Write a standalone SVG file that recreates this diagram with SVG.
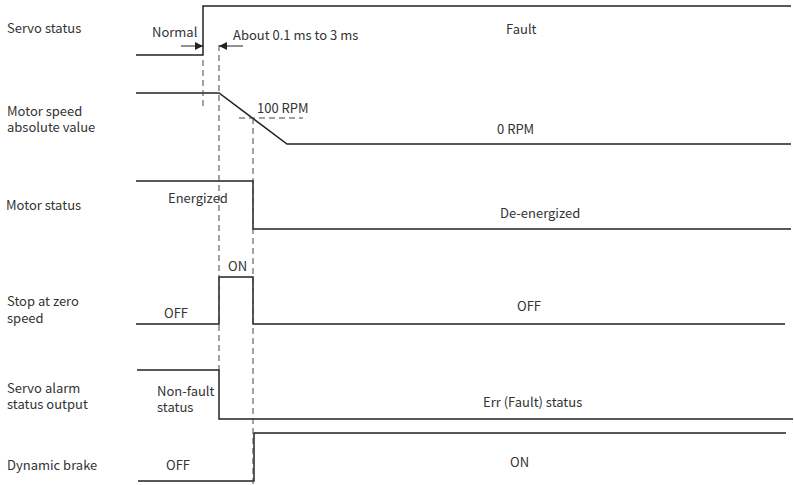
<svg xmlns="http://www.w3.org/2000/svg" width="794" height="485" viewBox="0 0 794 485">
<style>
text{font-family:"Noto Sans CJK SC","Noto Sans",sans-serif;font-size:13px;fill:#333}
.w{fill:none;stroke:#222;stroke-width:1.5}
.d{fill:none;stroke:#444;stroke-width:1;stroke-dasharray:6 4}
.a{fill:none;stroke:#222;stroke-width:1}
</style>
<defs>
<marker id="ah" viewBox="0 0 10 10" refX="10" refY="5" markerWidth="8" markerHeight="8" markerUnits="userSpaceOnUse" orient="auto"><path d="M0,0 L10,5 L0,10 z" fill="#222"/></marker>
</defs>
<rect width="794" height="485" fill="#fff"/>
<g id="servo-status">
<text x="7" y="33">Servo status</text>
<path class="w" d="M136,55 H203 V6 H791"/>
<text x="152" y="37">Normal</text>
<text x="506" y="34">Fault</text>
</g>
<g id="motor-speed">
<text x="7" y="116">Motor speed</text>
<text x="7" y="132">absolute value</text>
<path class="w" d="M136,93 H219 L287,144 H791"/>
<text x="257" y="113">100 RPM</text>
<text x="497" y="134">0 RPM</text>
</g>
<g id="motor-status">
<text x="6" y="210">Motor status</text>
<path class="w" d="M136,181 H253 V229 H791"/>
<text x="168" y="203">Energized</text>
<text x="500" y="218">De-energized</text>
</g>
<g id="stop-zero">
<text x="7" y="306">Stop at zero</text>
<text x="7" y="323">speed</text>
<path class="w" d="M136,324 H219 V277 H253 V324 H785"/>
<text x="228" y="271">ON</text>
<text x="164" y="318">OFF</text>
<text x="517" y="311">OFF</text>
</g>
<g id="servo-alarm">
<text x="7" y="393">Servo alarm</text>
<text x="7" y="409">status output</text>
<path class="w" d="M137,370 H219 V419 H793"/>
<text x="157" y="396">Non-fault</text>
<text x="157" y="412">status</text>
<text x="483" y="407">Err (Fault) status</text>
</g>
<g id="dynamic-brake">
<text x="7" y="470">Dynamic brake</text>
<path class="w" d="M138,481 H254 V433 H786"/>
<text x="166" y="470">OFF</text>
<text x="510" y="467">ON</text>
</g>
<g id="connectors">
<path class="d" d="M203,60 V110"/>
<path class="d" d="M219,45 V370"/>
<path class="d" d="M253,118 V485"/>
<path class="d" d="M239,118 H303"/>
<path class="a" d="M181,46 H203" marker-end="url(#ah)"/>
<path class="a" d="M243,46 H219" marker-end="url(#ah)"/>
<text x="233" y="40">About 0.1 ms to 3 ms</text>
</g>
</svg>
